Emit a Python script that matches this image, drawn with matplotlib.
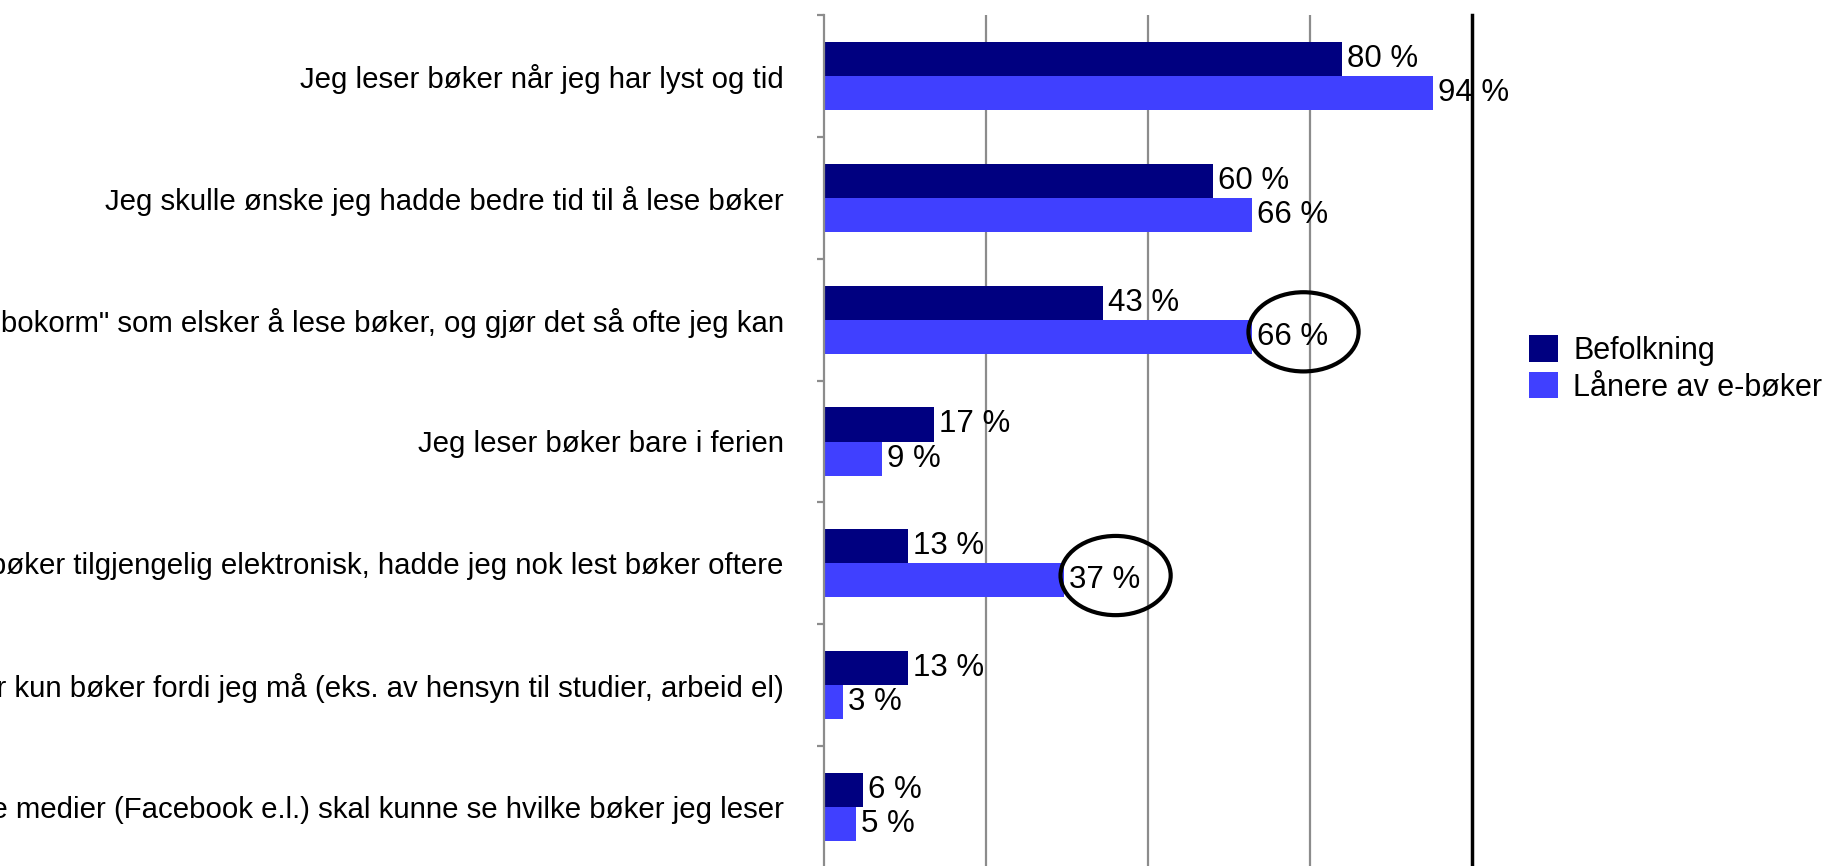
import matplotlib
matplotlib.use("Agg")
import matplotlib.pyplot as plt
from matplotlib.patches import Ellipse
import numpy as np

plt.rcParams['font.family'] = ['Liberation Sans', 'DejaVu Sans']

categories = [
    'Jeg leser bøker når jeg har lyst og tid',
    'Jeg skulle ønske jeg hadde bedre tid til å lese bøker',
    'Jeg er en "bokorm" som elsker å lese bøker, og gjør det så ofte jeg kan',
    'Jeg leser bøker bare i ferien',
    'Hvis det fantes flere bøker tilgjengelig elektronisk, hadde jeg nok lest bøker oftere',
    'Jeg leser kun bøker fordi jeg må (eks. av hensyn til studier, arbeid el)',
    'Jeg liker at venner i sosiale medier (Facebook e.l.) skal kunne se hvilke bøker jeg leser',
]
befolkning = [80, 60, 43, 17, 13, 13, 6]
laanere = [94, 66, 66, 9, 37, 3, 5]
series_names = ['Befolkning', 'Lånere av e-bøker']
colors = ['#000080', '#4040ff']

# rows where the e-book value is circled
circled_rows = [2, 4]

fig = plt.figure(figsize=(18.41, 8.66), dpi=100)
ax = fig.add_axes([824/1841, -2/866, 648/1841, 853/866])

y = np.arange(len(categories))
h = 0.28
b1 = ax.barh(y - h/2, befolkning, height=h, color=colors[0], label=series_names[0])
b2 = ax.barh(y + h/2, laanere, height=h, color=colors[1], label=series_names[1])

for bars, vals in [(b1, befolkning), (b2, laanere)]:
    for bar, v in zip(bars, vals):
        ax.annotate(f'{v} %', (v, bar.get_y() + bar.get_height()/2),
                    xytext=(3.5, 0), textcoords='offset points',
                    va='center', ha='left', fontsize=22.5, clip_on=False)

for r in circled_rows:
    v = laanere[r]
    ax.add_patch(Ellipse((v + 8, r + 0.1), 17, 0.65, fill=False,
                         edgecolor='black', lw=3, clip_on=False))

ax.set_xlim(0, 100)
ax.set_ylim(len(categories) - 0.5, -0.5)
ax.set_xticks([25, 50, 75])
ax.xaxis.grid(True, color='#8c8c8c', lw=1.6)
ax.set_axisbelow(True)
ax.tick_params(axis='x', length=0, labelbottom=False)

ax.set_yticks(y)
ax.set_yticklabels(categories, fontsize=21.2)
ax.set_yticks(np.arange(len(categories) + 1) - 0.5, minor=True)
ax.tick_params(axis='y', which='major', length=0, pad=29)
ax.tick_params(axis='y', which='minor', length=5, width=1.6, color='#8c8c8c', direction='out')

ax.spines['top'].set_visible(False)
ax.spines['bottom'].set_visible(False)
ax.spines['left'].set_color('#8c8c8c')
ax.spines['left'].set_linewidth(1.6)
ax.spines['right'].set_color('black')
ax.spines['right'].set_linewidth(2.5)

fig.legend(loc='center left', bbox_to_anchor=(1529/1841, 1 - 369/866),
           frameon=False, fontsize=22, handlelength=0.95, handleheight=0.95,
           handletextpad=0.5, labelspacing=0.2, borderpad=0, borderaxespad=0)

fig.savefig('out.png', dpi=100)
